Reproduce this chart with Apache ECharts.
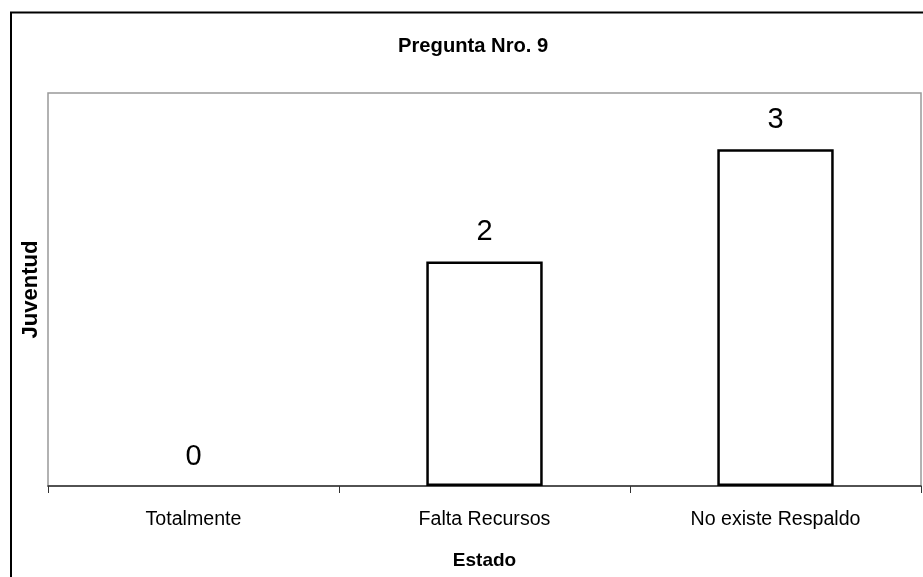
<!DOCTYPE html>
<html>
<head>
<meta charset="utf-8">
<script src="https://cdn.jsdelivr.net/npm/echarts@6/dist/echarts.min.js"></script>
<style>
  html, body { margin: 0; padding: 0; background: #fff; }
  #chart { width: 923px; height: 577px; }
</style>
</head>
<body>
<div id="chart"></div>
<script>
const chartTitle = 'Pregunta Nro. 9';
const categories = ['Totalmente', 'Falta Recursos', 'No existe Respaldo'];
const values = [0, 2, 3];
const xAxisName = 'Estado';
const yAxisName = 'Juventud';
const yMin = 0;
const yMax = 3.5;

const chart = echarts.init(document.getElementById('chart'), null, { renderer: 'canvas' });
const font = 'Liberation Sans, Arial, sans-serif';

// zero-height bars get no outline (as in the reference)
const barData = values.map(v => v === 0 ? { value: v, itemStyle: { borderWidth: 0 } } : v);

chart.setOption({
  animation: false,
  backgroundColor: '#fff',
  title: {
    text: chartTitle,
    left: 398,
    top: 36,
    padding: 0,
    textStyle: { fontFamily: font, fontWeight: 'bold', fontSize: 20.2, color: '#000' }
  },
  graphic: [{
    type: 'rect',
    silent: true,
    z: 100,
    shape: { x: 11, y: 12.5, width: 1200, height: 1000 },
    style: { fill: 'none', stroke: '#000', lineWidth: 2 }
  }],
  grid: {
    left: 48, top: 93, right: 2, bottom: 91,
    show: true, borderColor: '#999', borderWidth: 1.5, backgroundColor: '#fff'
  },
  xAxis: {
    type: 'category',
    data: categories,
    boundaryGap: true,
    axisLine: { lineStyle: { color: '#333', width: 1.5 } },
    axisTick: { show: true, length: 7, lineStyle: { color: '#333', width: 1 } },
    axisLabel: { margin: 24, fontFamily: font, fontSize: 19.6, color: '#000' },
    name: xAxisName,
    nameLocation: 'middle',
    nameGap: 65,
    nameTextStyle: { fontFamily: font, fontWeight: 'bold', fontSize: 19, color: '#000' }
  },
  yAxis: {
    type: 'value',
    min: yMin,
    max: yMax,
    axisLine: { show: false },
    axisTick: { show: false },
    axisLabel: { show: false },
    splitLine: { show: false },
    name: yAxisName,
    nameLocation: 'middle',
    nameGap: 6,
    nameTextStyle: { fontFamily: font, fontWeight: 'bold', fontSize: 22, color: '#000' }
  },
  series: [{
    type: 'bar',
    data: barData,
    barWidth: '40%',
    itemStyle: { color: '#fff', borderColor: '#000', borderWidth: 2.5 },
    label: { show: true, position: 'top', distance: 15, fontFamily: font, fontSize: 29, color: '#000' }
  }]
});
</script>
</body>
</html>
